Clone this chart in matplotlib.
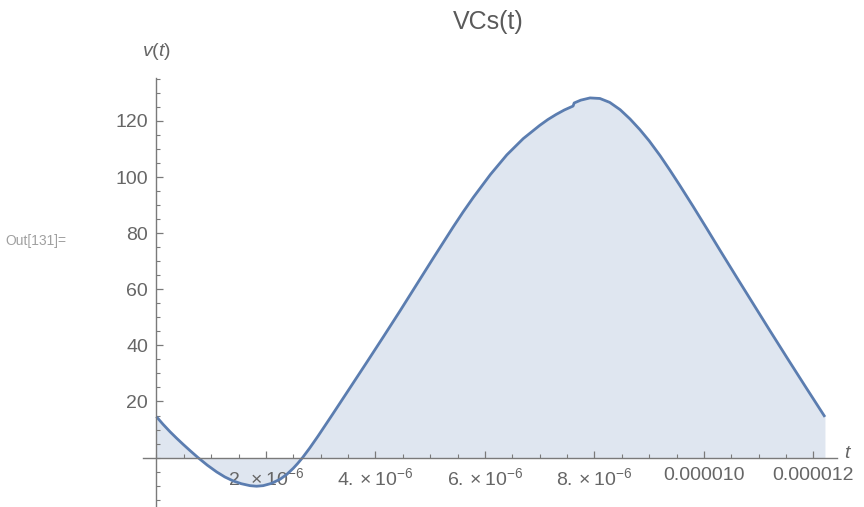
import matplotlib
matplotlib.use('Agg')
import matplotlib.pyplot as plt
from matplotlib.ticker import MultipleLocator, FixedLocator, FixedFormatter

plt.rcParams['font.family'] = ['Liberation Sans', 'DejaVu Sans']
plt.rcParams['mathtext.fontset'] = 'custom'
plt.rcParams['mathtext.rm'] = 'Liberation Sans'
plt.rcParams['mathtext.it'] = 'Liberation Sans:italic'
plt.rcParams['mathtext.bf'] = 'Liberation Sans:bold'

# data (time in microseconds, voltage)
t_us = [0.00, 0.12, 0.25, 0.37, 0.49, 0.62, 0.76, 0.93, 1.10, 1.25, 1.40, 1.55,
        1.71, 1.83, 1.95, 2.10, 2.26, 2.38, 2.50, 2.58, 2.67, 2.80, 2.95, 3.08,
        3.22, 3.50, 3.84, 4.15, 4.45, 4.75, 5.05, 5.42, 5.60, 5.79, 6.10, 6.40,
        6.70, 7.00, 7.15, 7.30, 7.45, 7.61, 7.63, 7.75, 7.92, 8.10, 8.28, 8.47,
        8.65, 8.83, 9.00, 9.20, 9.38, 9.56, 9.80, 10.05, 10.29, 10.60, 10.90,
        11.20, 11.52, 11.85, 12.21]
v_vals = [14.6, 11.9, 9.2, 6.9, 4.7, 2.4, 0.0, -2.7, -5.1, -6.9, -8.3, -9.3,
          -10.0, -10.2, -10.0, -9.2, -7.7, -6.0, -3.8, -2.1, 0.0, 3.4, 7.6, 11.4,
          15.5, 23.8, 33.9, 43.2, 52.3, 61.6, 70.9, 82.2, 87.5, 92.8, 100.9, 107.9,
          113.7, 118.4, 120.5, 122.3, 123.9, 125.3, 126.4, 127.4,
          128.2, 128.0, 126.6, 124.0, 120.7, 116.9, 112.9, 107.6, 102.4, 97.0, 89.6,
          81.7, 74.0, 64.2, 54.8, 45.4, 35.5, 25.4, 14.5]

x_major = [2e-6, 4e-6, 6e-6, 8e-6, 10e-6, 12e-6]
x_labels = [r'$2.\times10^{-6}$', r'$4.\times10^{-6}$', r'$6.\times10^{-6}$',
            r'$8.\times10^{-6}$', '0.000010', '0.000012']
y_major = [20, 40, 60, 80, 100, 120]
y_labels = ['20', '40', '60', '80', '100', '120']

W, H = 864, 507
fig = plt.figure(figsize=(W / 100, H / 100), dpi=100)
left_px, right_px, top_px, bot_px = 142.7, 837.0, 78.0, 506.7
ax = fig.add_axes([left_px / W, 1 - bot_px / H, (right_px - left_px) / W, (bot_px - top_px) / H])
ax.patch.set_alpha(0)

t = [x * 1e-6 for x in t_us]
line_color = '#5B7DB0'
ax.fill_between(t, v_vals, 0, color='#dfe6f0', lw=0, zorder=1)
ax.plot(t, v_vals, color=line_color, lw=2.0, zorder=2,
        solid_joinstyle='round', solid_capstyle='butt')

ax.set_xlim(-0.25e-6, 12.43e-6)
ax.set_ylim(-17.5, 135.3)

for s in ['top', 'right']:
    ax.spines[s].set_visible(False)
ax.spines['left'].set_position(('data', 0))
ax.spines['bottom'].set_position(('data', 0))
axis_col = '#7a7a7a'
for s in ['left', 'bottom']:
    ax.spines[s].set_color(axis_col)
    ax.spines[s].set_linewidth(1.0)

ax.xaxis.set_major_locator(FixedLocator(x_major))
ax.xaxis.set_major_formatter(FixedFormatter(x_labels))
ax.xaxis.set_minor_locator(MultipleLocator(0.5e-6))
ax.yaxis.set_major_locator(FixedLocator(y_major))
ax.yaxis.set_major_formatter(FixedFormatter(y_labels))
ax.yaxis.set_minor_locator(MultipleLocator(5))

lab_col = '#666666'
ax.tick_params(which='major', direction='in', length=5, width=0.9, color=axis_col,
               labelcolor=lab_col, labelsize=14)
ax.tick_params(which='minor', direction='in', length=3, width=0.8, color=axis_col)
ax.tick_params(axis='x', which='major', pad=7)
ax.tick_params(axis='y', which='major', pad=6)

ax.text(12.6e-6, 1.5, 't', style='italic', color=lab_col, fontsize=14,
        ha='center', va='center', clip_on=False)
ax.text(0, 144.6, r'$v(t)$', color=lab_col, fontsize=14,
        ha='center', va='center', clip_on=False)

fig.text(488 / W, 1 - 22 / H, 'VCs(t)', color='#5a5a5a', fontsize=18, ha='center', va='center')
fig.text(5 / W, 1 - 241 / H, 'Out[131]=', color='#a0a0a0', fontsize=10, ha='left', va='center')

fig.savefig('out.png', dpi=100)
